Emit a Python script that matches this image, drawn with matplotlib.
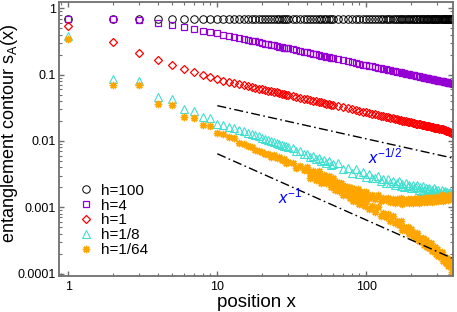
import matplotlib
matplotlib.use('Agg')
import matplotlib.pyplot as plt
from matplotlib.ticker import LogLocator, FuncFormatter, NullFormatter

plt.rcParams['font.family'] = ['Liberation Sans', 'DejaVu Sans']
plt.rcParams['mathtext.fontset'] = 'custom'
plt.rcParams['mathtext.rm'] = 'Liberation Sans'
plt.rcParams['mathtext.it'] = 'Liberation Sans:italic'
plt.rcParams['mathtext.bf'] = 'Liberation Sans:bold'

# ---------------- data ----------------
x_common = list(range(1, 31)) + list(range(32, 61, 2)) + list(range(65, 381, 5))

h100 = [0.69] * 30 + [0.69] * 15 + [0.69] * 64

h4 = [0.69, 0.68, 0.66, 0.60, 0.56, 0.52, 0.49, 0.46, 0.44, 0.42,
      0.401, 0.385, 0.370, 0.357, 0.345, 0.335, 0.325, 0.316, 0.308, 0.301,
      0.294, 0.287, 0.281, 0.276, 0.270, 0.265, 0.261, 0.256, 0.252, 0.248,
      0.240, 0.233, 0.227, 0.221, 0.216, 0.211, 0.206, 0.202, 0.198, 0.194,
      0.190, 0.187, 0.184, 0.181, 0.178,
      0.171, 0.165, 0.160, 0.155, 0.150, 0.146, 0.142, 0.139, 0.136, 0.133,
      0.130, 0.127, 0.125, 0.1225, 0.1203, 0.1182, 0.1162, 0.1144, 0.1126, 0.1109,
      0.1093, 0.1077, 0.1063, 0.1048, 0.1034, 0.1021, 0.1009, 0.0997, 0.0985, 0.0974,
      0.0962, 0.0952, 0.0942, 0.0932, 0.0922, 0.0913, 0.0904, 0.0895, 0.0887, 0.0879,
      0.0871, 0.0863, 0.0855, 0.0848, 0.0841, 0.0834, 0.0827, 0.0820, 0.0814, 0.0807,
      0.0801, 0.0796, 0.0790, 0.0784, 0.0778, 0.0773, 0.0767, 0.0762, 0.0757, 0.0752,
      0.0747, 0.0742, 0.0737, 0.0732]

h1 = [0.54, 0.307, 0.214, 0.165, 0.140, 0.121, 0.111, 0.099, 0.091, 0.085,
      0.0810, 0.0776, 0.0746, 0.0718, 0.0694, 0.0672, 0.0652, 0.0633, 0.0617, 0.0601,
      0.0586, 0.0573, 0.0560, 0.0549, 0.0538, 0.0527, 0.0517, 0.0508, 0.0499, 0.0491,
      0.0475, 0.0461, 0.0448, 0.0436, 0.0425, 0.0415, 0.0405, 0.0396, 0.0388, 0.0380,
      0.0373, 0.0366, 0.0359, 0.0353, 0.0347,
      0.0333, 0.0321, 0.0310, 0.0300, 0.0292, 0.0283, 0.0276, 0.0269, 0.0262, 0.0256,
      0.0251, 0.0245, 0.0240, 0.0236, 0.0231, 0.0227, 0.0223, 0.0219, 0.0216, 0.0213,
      0.0209, 0.0206, 0.0203, 0.0200, 0.0198, 0.0195, 0.0193, 0.0190, 0.0188, 0.0185,
      0.0183, 0.0181, 0.0179, 0.0177, 0.0175, 0.0174, 0.0172, 0.0170, 0.0168, 0.0167,
      0.0165, 0.0164, 0.0162, 0.0161, 0.0159, 0.0158, 0.0157, 0.0155, 0.0154, 0.0153,
      0.0152, 0.0150, 0.0149, 0.0148, 0.0146, 0.0145, 0.0143, 0.0141, 0.0139, 0.0137,
      0.0135, 0.0133, 0.0130, 0.0128]

h8 = [0.38, 0.086, 0.081, 0.046, 0.043, 0.030, 0.028, 0.0232, 0.0219, 0.0178, 0.0175,
      0.0162, 0.0156, 0.0146, 0.0141, 0.0132, 0.0129, 0.0121, 0.0118, 0.0111, 0.0108,
      0.0103, 0.0100, 0.0096, 0.0094, 0.0090, 0.0088, 0.0085, 0.0083, 0.0080,
      0.0078, 0.0070, 0.0071, 0.0063, 0.0064, 0.0058, 0.0060, 0.0053, 0.0055, 0.0049,
      0.0052, 0.0046, 0.0049, 0.0043, 0.0045,
      0.00457, 0.00379, 0.00394, 0.00324, 0.00382, 0.00321, 0.00338, 0.00282, 0.00321, 0.00276,
      0.00279, 0.00293, 0.00248, 0.00268, 0.00229, 0.00269, 0.00232, 0.00251, 0.00215, 0.00235,
      0.00245, 0.00211, 0.00226, 0.00199, 0.00235, 0.00208, 0.00220, 0.00193, 0.00219, 0.00197,
      0.00200, 0.00214, 0.00184, 0.00202, 0.00175, 0.00207, 0.00181, 0.00197, 0.00171, 0.00189,
      0.00198, 0.00170, 0.00184, 0.00162, 0.00192, 0.00170, 0.00180, 0.00158, 0.00181, 0.00162,
      0.00166, 0.00179, 0.00154, 0.00170, 0.00148, 0.00176, 0.00154, 0.00168, 0.00146, 0.00161,
      0.00170, 0.00147, 0.00158, 0.00141]

x_h64 = list(range(1, 31)) + [32, 34, 36, 38]
h64 = [0.35, 0.070, 0.069, 0.036, 0.035, 0.023, 0.0224, 0.0172, 0.0165, 0.0131, 0.0128,
       0.0113, 0.0110, 0.0094, 0.0091, 0.0083, 0.0080, 0.0074, 0.0071,
       0.0068, 0.0064, 0.0064, 0.0058, 0.0061, 0.0055, 0.0057, 0.0051, 0.0053, 0.0047, 0.0048,
       0.0047, 0.0039, 0.0042, 0.0036]

x_split = list(range(40, 101, 2)) + list(range(105, 381, 5))
h64_upper = [0.00407, 0.00331, 0.00354, 0.00314, 0.00347, 0.00270, 0.00307, 0.00272, 0.00292, 0.00242,
             0.00275, 0.00221, 0.00239, 0.00209, 0.00235, 0.00185, 0.00212, 0.00189, 0.00205, 0.00172,
             0.00198, 0.00162, 0.00179, 0.00162, 0.00188, 0.00149, 0.00172, 0.00155, 0.00171, 0.00145,
             0.00169,
             0.00138, 0.00153, 0.00135, 0.00153, 0.00124, 0.00138, 0.00128, 0.00140, 0.00120, 0.00135,
             0.00116, 0.00131, 0.00118, 0.00136, 0.00112, 0.00127, 0.00119, 0.00133, 0.00117, 0.00131,
             0.00115, 0.00131, 0.00120, 0.00139, 0.00116, 0.00131, 0.00124, 0.00138, 0.00121, 0.00138,
             0.00120, 0.00138, 0.00124, 0.00145, 0.00120, 0.00137, 0.00129, 0.00145, 0.00126, 0.00143,
             0.00124, 0.00143, 0.00129, 0.00151, 0.00125, 0.00142, 0.00134, 0.00150, 0.00132, 0.00148,
             0.00130, 0.00149, 0.00136, 0.00158, 0.00132, 0.00150]
h64_lower = [0.00370, 0.00279, 0.00315, 0.00260, 0.00311, 0.00229, 0.00255, 0.00228, 0.00253, 0.00200,
             0.00235, 0.00182, 0.00205, 0.00175, 0.00208, 0.00153, 0.00171, 0.00154, 0.00172, 0.00137,
             0.00162, 0.00126, 0.00143, 0.00123, 0.00147, 0.00110, 0.00124, 0.00113, 0.00128, 0.00103,
             0.00123,
             0.00094, 0.00104, 0.00086, 0.00101, 0.00073, 0.00081, 0.00071, 0.00079, 0.00063, 0.00074,
             0.00057, 0.00063, 0.00053, 0.00062, 0.00046, 0.00050, 0.00045, 0.00050, 0.00039, 0.00047,
             0.000365, 0.00041, 0.000349, 0.000414, 0.000308, 0.000347, 0.000309, 0.000341, 0.000273, 0.000325,
             0.000252, 0.000284, 0.000244, 0.000293, 0.000217, 0.000245, 0.000220, 0.000248, 0.000197, 0.000235,
             0.000182, 0.000205, 0.000176, 0.000210, 0.000156, 0.000175, 0.000159, 0.000178, 0.000143, 0.000170,
             0.000132, 0.000150, 0.000129, 0.000155, 0.000105, 0.000130]

guide_x = [10, 375]
guide_half = [0.034, 0.00555]
guide_one = [0.0064, 0.000171]

labels = ['h=100', 'h=4', 'h=1', 'h=1/8', 'h=1/64']
colors = ['black', '#9400D3', '#FF0000', '#40E0D0', '#FFA500']

# ---------------- figure ----------------
fig = plt.figure(figsize=(4.57, 3.12), dpi=100)
ax = fig.add_axes([59 / 457, 36.5 / 312, 394 / 457, 273.5 / 312])

common = dict(linestyle='none', mfc='none')
star = (8, 2, 0)
ax.plot(x_common, h100, marker='o', ms=5.4, mec=colors[0], mew=0.7, label=labels[0], **common)
ax.plot(x_common, h4, marker='s', ms=4.6, mec=colors[1], mew=0.9, label=labels[1], **common)
ax.plot(x_common, h1, marker='D', ms=4.0, mec=colors[2], mew=0.9, label=labels[2], **common)
ax.plot(x_common, h8, marker='^', ms=5.4, mec=colors[3], mew=0.8, label=labels[3], **common)
ax.plot(x_h64, h64, marker=star, ms=5.3, mec=colors[4], mew=1.0, label=labels[4], **common)
ax.plot(x_split, h64_upper, marker=star, ms=5.3, mec=colors[4], mew=1.0, **common)
ax.plot(x_split, h64_lower, marker=star, ms=5.3, mec=colors[4], mew=1.0, **common)

ax.plot(guide_x, guide_half, color='black', lw=1.0, dashes=[6.5, 2.4, 1.2, 2.4])
ax.plot(guide_x, guide_one, color='black', lw=1.0, dashes=[6.5, 2.4, 1.2, 2.4])

ax.text(102, 0.00464, r'$x^{-1/2}$', color='blue', fontsize=12, ha='left', va='baseline')
ax.text(25.5, 0.00116, r'$x^{-1}$', color='blue', fontsize=12, ha='left', va='baseline')

ax.set_xscale('log')
ax.set_yscale('log')
ax.set_xlim(0.866, 382)
ax.set_ylim(9.33e-5, 1.245)

fmt = FuncFormatter(lambda v, p: '%g' % v)
ax.xaxis.set_major_locator(LogLocator(base=10, numticks=10))
ax.yaxis.set_major_locator(LogLocator(base=10, numticks=10))
ax.xaxis.set_minor_locator(LogLocator(base=10, subs=range(2, 10), numticks=20))
ax.yaxis.set_minor_locator(LogLocator(base=10, subs=range(2, 10), numticks=20))
ax.xaxis.set_major_formatter(fmt)
ax.yaxis.set_major_formatter(fmt)
ax.xaxis.set_minor_formatter(NullFormatter())
ax.yaxis.set_minor_formatter(NullFormatter())

spine_col = '#707070'
for s in ax.spines.values():
    s.set_color(spine_col)
    s.set_linewidth(1.3)
ax.tick_params(which='both', direction='in', top=True, right=True, colors=spine_col,
               labelcolor='black', labelsize=9)
ax.tick_params(which='major', length=3.5, width=1.0)
ax.tick_params(which='minor', length=2.0, width=0.8)
ax.tick_params(axis='y', pad=2)
ax.tick_params(axis='x', pad=4)

ax.set_xlabel('position x', fontsize=13.5, labelpad=1)
ax.set_ylabel(r'entanglement contour s$_\mathrm{A}$(x)', fontsize=13)
ax.yaxis.set_label_coords(-0.098, 0.52)

ax.legend(loc='upper left', bbox_to_anchor=(0.048, 0.336), frameon=False, fontsize=11,
          borderpad=0, borderaxespad=0, handlelength=1.0, handletextpad=0.5,
          labelspacing=0.06, numpoints=1)

fig.savefig('out.png', dpi=100)
